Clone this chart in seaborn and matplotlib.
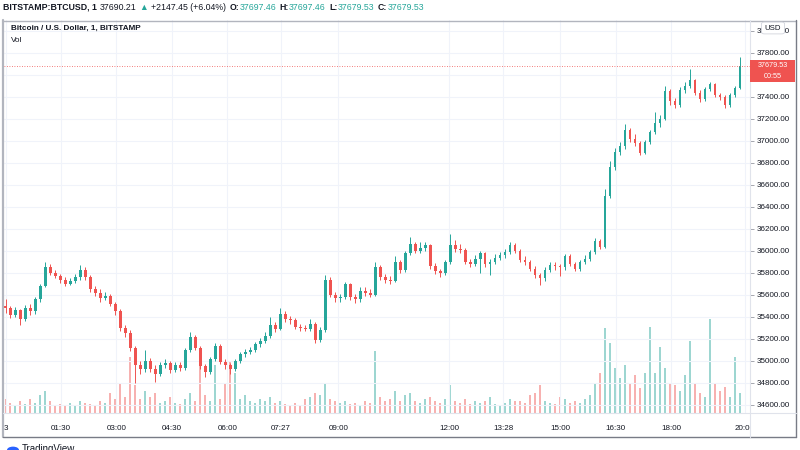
import numpy as np
import pandas as pd
import matplotlib
matplotlib.use("Agg")
import matplotlib.pyplot as plt
import seaborn as sns
from matplotlib.patches import Rectangle, FancyBboxPatch, Circle

sns.set_theme(style="white")
plt.rcParams['font.family'] = ['Liberation Sans', 'DejaVu Sans']

# ---------------- data ----------------
closes = [
    35480, 35420, 35460, 35380, 35480, 35450, 35560, 35680, 35850, 35800,
    35770, 35740, 35700, 35730, 35760, 35830, 35760, 35650, 35620, 35570,
    35590, 35520, 35450, 35300, 35250, 35120, 34960, 34930, 35000, 34930,
    34880, 34960, 34980, 34920, 34960, 34940, 35100, 35220, 35120, 34950,
    34900, 35020, 35140, 34990, 34960, 34930, 35000, 35060, 35080, 35100,
    35150, 35180, 35230, 35330, 35290, 35430, 35380, 35370, 35310, 35300,
    35290, 35340, 35190, 35280, 35740, 35600, 35570, 35580, 35700, 35580,
    35560, 35640, 35620, 35600, 35850, 35760, 35740, 35730, 35900, 35830,
    35980, 36060, 36000, 36030, 36050, 35860, 35820, 35800, 35900, 36050,
    36020, 36010, 35900, 35880, 35930, 35980, 35880, 35900, 35940, 35960,
    35990, 36050, 36000, 35920, 35900, 35840, 35780, 35750, 35830, 35870,
    35860, 35850, 35950, 35880, 35840, 35900, 35930, 35990, 36090, 36040,
    36500, 36760, 36900, 36950, 37100, 37020, 36980, 36890, 36990, 37080,
    37160, 37200, 37450, 37360, 37330, 37460, 37500, 37550, 37440, 37380,
    37470, 37520, 37420, 37400, 37330, 37420, 37480, 37680]
first_open = 35500
highs = [
    35560, 35500, 35490, 35470, 35510, 35520, 35580, 35700, 35900, 35880,
    35830, 35790, 35760, 35750, 35790, 35870, 35850, 35780, 35680, 35650,
    35630, 35610, 35540, 35470, 35330, 35280, 35140, 35000, 35100, 35030,
    34960, 34990, 35020, 35000, 34990, 34990, 35120, 35260, 35240, 35140,
    34970, 35040, 35160, 35150, 35020, 34980, 35020, 35080, 35110, 35130,
    35170, 35210, 35260, 35400, 35350, 35480, 35450, 35410, 35390, 35340,
    35330, 35380, 35350, 35310, 35780, 35760, 35630, 35610, 35720, 35710,
    35610, 35670, 35670, 35650, 35900, 35870, 35790, 35770, 35950, 35920,
    36000, 36130, 36080, 36080, 36080, 36060, 35890, 35840, 35920, 36150,
    36100, 36060, 36030, 35930, 35960, 36000, 35990, 35930, 35970, 35990,
    36020, 36080, 36070, 36020, 35950, 35920, 35860, 35800, 35850, 35900,
    35900, 35880, 35970, 35970, 35900, 35920, 35960, 36010, 36120, 36110,
    36560, 36820, 36940, 36990, 37150, 37120, 37060, 37000, 37010, 37100,
    37260, 37240, 37500, 37470, 37390, 37490, 37540, 37650, 37560, 37460,
    37490, 37540, 37530, 37440, 37420, 37440, 37500, 37760]
lows = [
    35440, 35390, 35400, 35330, 35360, 35420, 35430, 35540, 35670, 35780,
    35750, 35710, 35680, 35690, 35710, 35740, 35740, 35630, 35590, 35540,
    35550, 35500, 35420, 35270, 35220, 35090, 34800, 34880, 34900, 34900,
    34810, 34860, 34940, 34890, 34900, 34910, 34920, 35080, 35100, 34930,
    34850, 34880, 35000, 34970, 34930, 34880, 34910, 34980, 35040, 35060,
    35080, 35130, 35160, 35210, 35260, 35280, 35350, 35340, 35290, 35270,
    35270, 35270, 35160, 35170, 35260, 35580, 35540, 35540, 35560, 35550,
    35530, 35540, 35590, 35580, 35590, 35740, 35710, 35700, 35720, 35800,
    35810, 35960, 35980, 35980, 36000, 35840, 35790, 35760, 35780, 35880,
    35990, 35980, 35880, 35850, 35860, 35800, 35850, 35780, 35880, 35920,
    35940, 35970, 35980, 35900, 35870, 35820, 35750, 35690, 35730, 35810,
    35830, 35770, 35830, 35860, 35820, 35820, 35880, 35910, 35970, 36020,
    36030, 36480, 36740, 36870, 36930, 36990, 36950, 36870, 36880, 36970,
    37060, 37130, 37190, 37330, 37300, 37310, 37440, 37480, 37420, 37350,
    37360, 37450, 37400, 37370, 37300, 37310, 37400, 37470]
volumes = [
    14, 10, 8, 12, 9, 14, 10, 18, 22, 12,
    8, 9, 7, 10, 8, 12, 10, 9, 8, 12,
    10, 20, 14, 30, 16, 56, 28, 14, 22, 16,
    20, 10, 12, 16, 10, 9, 14, 20, 12, 56,
    18, 12, 48, 14, 30, 52, 40, 14, 18, 12,
    10, 14, 12, 16, 10, 12, 9, 8, 10, 8,
    14, 16, 20, 18, 30, 14, 12, 10, 12, 9,
    10, 8, 12, 10, 62, 16, 12, 14, 22, 12,
    18, 20, 12, 10, 14, 16, 12, 10, 14, 28,
    12, 10, 14, 9, 12, 10, 12, 16, 9, 8,
    10, 14, 12, 12, 10, 18, 20, 28, 12, 10,
    9, 16, 14, 10, 12, 10, 14, 18, 30, 40,
    85, 70, 45, 35, 48, 30, 38, 25, 40, 86,
    40, 66, 45, 30, 28, 22, 38, 72, 30, 20,
    16, 94, 30, 22, 26, 16, 56, 20]
candle_minutes = 8.11          # duration of one drawn candle
price_ticks = list(range(34600, 38001, 200))
hidden_price_labels = [37600]  # covered by the last-price tag in the reference
time_tick_minutes = [0, 90, 180, 270, 360, 447, 540, 720, 808, 900, 990, 1080, 1200]
time_tick_labels = ['3', '01:30', '03:00', '04:30', '06:00', '07:27', '09:00',
                    '12:00', '13:28', '15:00', '16:30', '18:00', '20:00']
last_price = 37679.53

df = pd.DataFrame({'close': closes, 'high': highs, 'low': lows, 'volume': volumes})
df['open'] = [first_open] + closes[:-1]
df['t'] = np.arange(len(df)) * candle_minutes

UP, DOWN = '#26a69a', '#ef5350'
df['color'] = np.where(df['close'] >= df['open'], UP, DOWN)

W, H = 800, 450
fig = plt.figure(figsize=(8, 4.5), dpi=100)
fig.patch.set_facecolor('white')

L, R, T, B = 4, 750, 20, 413
ax = fig.add_axes([L / W, 1 - B / H, (R - L) / W, (B - T) / H])
ax2 = fig.add_axes([L / W, 1 - B / H, (R - L) / W, (B - T) / H], zorder=-1)
ax.set_zorder(1)
ax.patch.set_visible(False)

px_per_min = 0.6162
x0 = (L - 5.5) / px_per_min
x1 = (R - 5.5) / px_per_min
ax.set_xlim(x0, x1)
ax2.set_xlim(x0, x1)
ax.set_ylim(34527, 38100)
ax2.set_ylim(0, B - T)

# volume
ax2.bar(df['t'], df['volume'], width=candle_minutes * 0.4, color=df['color'],
        alpha=0.45, linewidth=0)
ax2.set_xticks([])
ax2.set_yticks([])
ax2.grid(False)
for s in ax2.spines.values():
    s.set_visible(False)

# candles
ax.vlines(df['t'], df['low'], df['high'], colors=df['color'], linewidth=0.7)
body_bottom = np.minimum(df['open'], df['close'])
body_h = np.maximum(np.abs(df['close'] - df['open']), 6)
ax.bar(df['t'], body_h, bottom=body_bottom, width=candle_minutes * 0.5,
       color=df['color'], linewidth=0)

# grid
for p in price_ticks:
    ax.axhline(p, color='#f0f3fa', lw=0.8, zorder=0)
for m in time_tick_minutes:
    ax.axvline(m, color='#f0f3fa', lw=0.8, zorder=0)
ax.axhline(last_price, color=DOWN, lw=0.6, ls=(0, (1, 2)))

ax.yaxis.tick_right()
ax.set_yticks(price_ticks)
ax.set_yticklabels(["" if p in hidden_price_labels else f"{p:.2f}" for p in price_ticks],
                   fontsize=5.8, color='#131722')
ax.tick_params(axis='y', length=3, width=0.6, color='#9598a1', pad=2, right=True, left=False)
ax.set_xticks(time_tick_minutes)
ax.set_xticklabels(time_tick_labels, fontsize=5.8, color='#131722')
ax.tick_params(axis='x', length=0, pad=9, bottom=True)
for s in ax.spines.values():
    s.set_visible(False)

def fx(px):
    return px / W

def fy(py):
    return 1 - py / H

# frame lines
fig.add_artist(Rectangle((fx(750.5), fy(437)), fx(45), 24 / H, facecolor='white',
                         edgecolor='none', zorder=5))
fig.add_artist(plt.Line2D([fx(3), fx(3)], [fy(20), fy(437)], color='#b2b5be', lw=1.6, zorder=6))
fig.add_artist(plt.Line2D([fx(3), fx(796)], [fy(20.5), fy(20.5)], color='#b2b5be', lw=1.0, zorder=6))
fig.add_artist(plt.Line2D([fx(3), fx(796)], [fy(437), fy(437)], color='#787b86', lw=1.0, zorder=6))
fig.add_artist(plt.Line2D([fx(796), fx(796)], [fy(20), fy(437)], color='#787b86', lw=1.0, zorder=6))
fig.add_artist(plt.Line2D([fx(750), fx(750)], [fy(20), fy(437)], color='#e0e3eb', lw=0.8, zorder=6))
fig.add_artist(plt.Line2D([fx(3), fx(796)], [fy(413), fy(413)], color='#e0e3eb', lw=0.8, zorder=6))

# last price label
fig.add_artist(Rectangle((fx(750), fy(82)), fx(45), 22 / H, facecolor=DOWN,
                         edgecolor='none', zorder=7))
fig.text(fx(773), fy(65.5), f"{last_price:.2f}", color='white', fontsize=5.2,
         ha='center', va='center', zorder=8)
fig.text(fx(773), fy(76.5), "00:55", color='white', fontsize=5.2,
         ha='center', va='center', zorder=8)

# USD box
fig.add_artist(FancyBboxPatch((fx(763), fy(33)), fx(20), 10 / H,
                              boxstyle="round,pad=0.002,rounding_size=0.004",
                              facecolor='white', edgecolor='#d1d4dc', lw=0.6, zorder=7))
fig.text(fx(773), fy(28), "USD", fontsize=5.6, color='#131722', ha='center', va='center', zorder=8)

# header
fig.canvas.draw()
r = fig.canvas.get_renderer()
segs = [("BITSTAMP:BTCUSD, 1", 'bold', '#131722'),
        ("37690.21", 'normal', '#131722'),
        ("▲", 'normal', UP),
        ("+2147.45 (+6.04%)", 'normal', '#131722'),
        ("O:", 'bold', '#131722'), ("37697.46", 'normal', UP),
        ("H:", 'bold', '#131722'), ("37697.46", 'normal', UP),
        ("L:", 'bold', '#131722'), ("37679.53", 'normal', UP),
        ("C:", 'bold', '#131722'), ("37679.53", 'normal', UP)]
x = 3.0
for i, (s, w, c) in enumerate(segs):
    t = fig.text(fx(x), fy(7), s, fontsize=6.3, fontweight=w, color=c, ha='left', va='center')
    bb = t.get_window_extent(renderer=r)
    gap = 0.5 if s.endswith(':') else 3.0
    x += bb.width + gap

fig.text(fx(11), fy(28), "Bitcoin / U.S. Dollar, 1, BITSTAMP", fontsize=5.9,
         fontweight='bold', color='#131722', ha='left', va='center')
fig.text(fx(11), fy(41), "Vol", fontsize=5.9, color='#131722', ha='left', va='center')

# TradingView logo
fig.add_artist(Circle((fx(13), fy(450)), 6 / W, transform=fig.transFigure,
                      facecolor='#2962ff', edgecolor='none'))
fig.text(fx(22), fy(444), "TradingView", fontsize=7, color='#131722', ha='left', va='top')

fig.savefig("out.png", dpi=100, facecolor='white')
